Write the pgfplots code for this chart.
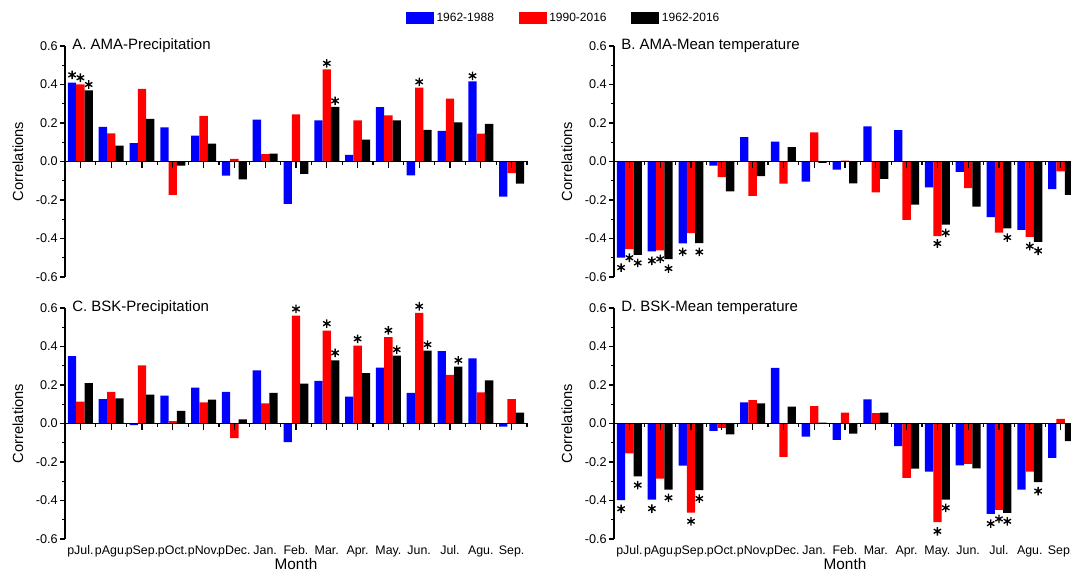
\documentclass[border=0pt]{standalone}
\usepackage{fontspec}
\setmainfont{Liberation Sans}
\usepackage{pgfplots}
\usepackage{pgfplotstable}
\pgfplotsset{compat=1.18}
\definecolor{cblue}{RGB}{0,0,255}
\definecolor{cred}{RGB}{255,0,0}

\pgfplotstableread{
x b r k
0 0.410 0.400 0.370
1 0.180 0.146 0.082
2 0.096 0.377 0.221
3 0.177 -0.173 -0.022
4 0.134 0.237 0.093
5 -0.074 0.014 -0.093
6 0.218 0.038 0.041
7 -0.220 0.245 -0.064
8 0.213 0.478 0.284
9 0.035 0.213 0.113
10 0.282 0.239 0.213
11 -0.072 0.384 0.164
12 0.159 0.326 0.203
13 0.416 0.145 0.196
14 -0.183 -0.061 -0.115
}\dataA
\pgfplotstableread{
x y
-0.27 0.450
0 0.435
0.27 0.400
8 0.510
8.27 0.315
11 0.414
12.73 0.445
}\starA
\pgfplotstableread{
x b r k
0 -0.500 -0.455 -0.485
1 -0.467 -0.462 -0.507
2 -0.426 -0.372 -0.424
3 -0.022 -0.081 -0.155
4 0.126 -0.178 -0.076
5 0.103 -0.115 0.075
6 -0.104 0.151 -0.007
7 -0.042 0.005 -0.114
8 0.182 -0.161 -0.090
9 0.163 -0.303 -0.224
10 -0.135 -0.388 -0.328
11 -0.054 -0.139 -0.234
12 -0.289 -0.369 -0.347
13 -0.355 -0.392 -0.418
14 -0.144 -0.052 -0.173
}\dataB
\pgfplotstableread{
x y
-0.27 -0.551
0 -0.500
0.27 -0.527
0.73 -0.516
1 -0.506
1.27 -0.556
1.73 -0.470
2.27 -0.470
10 -0.426
10.27 -0.371
12.27 -0.395
13 -0.440
13.27 -0.464
}\starB
\pgfplotstableread{
x b r k
0 0.350 0.114 0.210
1 0.126 0.164 0.131
2 -0.009 0.302 0.150
3 0.145 0.012 0.066
4 0.186 0.110 0.124
5 0.164 -0.076 0.021
6 0.276 0.105 0.159
7 -0.097 0.560 0.207
8 0.221 0.483 0.328
9 0.140 0.405 0.262
10 0.290 0.448 0.352
11 0.159 0.574 0.378
12 0.376 0.252 0.295
13 0.338 0.162 0.224
14 -0.016 0.126 0.057
}\dataC
\pgfplotstableread{
x y
7 0.595
8 0.519
8.27 0.367
9 0.440
10 0.484
10.27 0.384
11 0.609
11.27 0.410
12.27 0.328
}\starC
\pgfplotstableread{
x b r k
0 -0.398 -0.155 -0.275
1 -0.395 -0.287 -0.343
2 -0.219 -0.463 -0.346
3 -0.038 -0.023 -0.056
4 0.110 0.122 0.104
5 0.289 -0.174 0.087
6 -0.068 0.090 0.005
7 -0.085 0.056 -0.052
8 0.125 0.054 0.056
9 -0.118 -0.282 -0.235
10 -0.250 -0.513 -0.395
11 -0.217 -0.210 -0.233
12 -0.470 -0.449 -0.464
13 -0.344 -0.250 -0.304
14 -0.179 0.024 -0.092
}\dataD
\pgfplotstableread{
x y
-0.27 -0.443
0.27 -0.320
0.73 -0.442
1.27 -0.386
2 -0.508
2.27 -0.390
10 -0.560
10.27 -0.438
11.73 -0.520
12 -0.496
12.27 -0.508
13.27 -0.351
}\starD

\pgfplotsset{panel/.style={
  scale only axis, width=346.5pt, height=173.25pt, anchor=south west,
  xmin=-0.5, xmax=14.5, ymin=-0.6, ymax=0.6, clip=false,
  axis x line=bottom, axis y line=left,
  x axis line style={draw=none}, y axis line style={-, line width=0.8pt},
  xtick={0,...,14}, xtick style={draw=none},
  ytick={-0.6,-0.4,-0.2,0,0.2,0.4,0.6}, minor y tick num=1,
  tick align=outside, major tick length=3.75pt, minor tick length=2.2pt,
  ytick style={line width=0.8pt, black}, minor tick style={line width=0.8pt, black},
  yticklabel style={font=\fontsize{9.5}{10}\selectfont, inner sep=0pt, xshift=-1.5pt,
    /pgf/number format/fixed, /pgf/number format/fixed zerofill,
    /pgf/number format/precision=1, /pgf/number format/assume math mode=true},
  xticklabel style={font=\fontsize{9.3}{10}\selectfont, inner sep=0pt, yshift=-1pt},
  ylabel={Correlations},
  ylabel style={at={(axis description cs:-0.102,0.5)}, anchor=center, font=\fontsize{11}{12}\selectfont},
  xlabel style={at={(axis description cs:0.5,-0.108)}, anchor=center, font=\fontsize{11.5}{12}\selectfont},
}}
\newcommand{\bars}[2]{%
  \addplot[ybar, bar width=0.27, bar shift=-0.27, fill=cblue, draw=none,
    legend image code/.code={\fill[cblue] (0pt,-4.25pt) rectangle (21pt,4.25pt);}] table[x=x,y=b]{#1};
  \addplot[ybar, bar width=0.27, bar shift=0, fill=cred, draw=none,
    legend image code/.code={\fill[cred] (0pt,-4.25pt) rectangle (21pt,4.25pt);}] table[x=x,y=r]{#1};
  \addplot[ybar, bar width=0.27, bar shift=0.27, fill=black, draw=none,
    legend image code/.code={\fill[black] (0pt,-4.25pt) rectangle (21pt,4.25pt);}] table[x=x,y=k]{#1};
  \addplot[only marks, mark=asterisk, mark size=3.2pt, line width=1pt, black, forget plot] table[x=x,y=y]{#2};
  \draw[line width=0.8pt] (axis cs:-0.5,0) -- (axis cs:14.5,0);
  \pgfplotsinvokeforeach{0,1,2,3,4,5,6,7,8,9,10,11,12,13,14}{\draw[line width=0.8pt] (axis cs:##1,0) -- ++(0pt,-5.25pt);}
  \pgfplotsinvokeforeach{0.5,1.5,2.5,3.5,4.5,5.5,6.5,7.5,8.5,9.5,10.5,11.5,12.5,13.5,14.5}{\draw[line width=0.8pt] (axis cs:##1,0) -- ++(0pt,-3pt);}
}
\newcommand{\ptitle}[1]{\node[anchor=west, inner sep=0pt, font=\fontsize{11.25}{12}\selectfont] at ([xshift=5.25pt]rel axis cs:0,1) {#1};}

\begin{document}
\begin{tikzpicture}
\useasboundingbox (0,0) rectangle (803.25pt,430.5pt);
\clip (0,0) rectangle (803.25pt,430.5pt);
% A
\begin{axis}[panel, at={(48.75pt,222.75pt)}, xticklabels={},
  legend style={at={(axis description cs:1.08,1.121)}, anchor=center, draw=none, fill=none,
    legend columns=3, font=\fontsize{9}{10}\selectfont, inner sep=0pt,
    /tikz/every even column/.append style={column sep=16.5pt}}]
\bars{\dataA}{\starA}
\legend{1962-1988,1990-2016,1962-2016}
\ptitle{A. AMA-Precipitation}
\end{axis}
% B
\begin{axis}[panel, at={(460.5pt,222.75pt)}, xticklabels={}]
\bars{\dataB}{\starB}
\ptitle{B. AMA-Mean temperature}
\end{axis}
% C
\begin{axis}[panel, at={(48.75pt,26.25pt)}, xlabel={Month},
  xticklabels={pJul.,pAgu.,pSep.,pOct.,pNov.,pDec.,Jan.,Feb.,Mar.,Apr.,May.,Jun.,Jul.,Agu.,Sep.}]
\bars{\dataC}{\starC}
\ptitle{C. BSK-Precipitation}
\end{axis}
% D
\begin{axis}[panel, at={(460.5pt,26.25pt)}, xlabel={Month},
  xticklabels={pJul.,pAgu.,pSep.,pOct.,pNov.,pDec.,Jan.,Feb.,Mar.,Apr.,May.,Jun.,Jul.,Agu.,Sep.}]
\bars{\dataD}{\starD}
\ptitle{D. BSK-Mean temperature}
\end{axis}
\end{tikzpicture}
\end{document}
